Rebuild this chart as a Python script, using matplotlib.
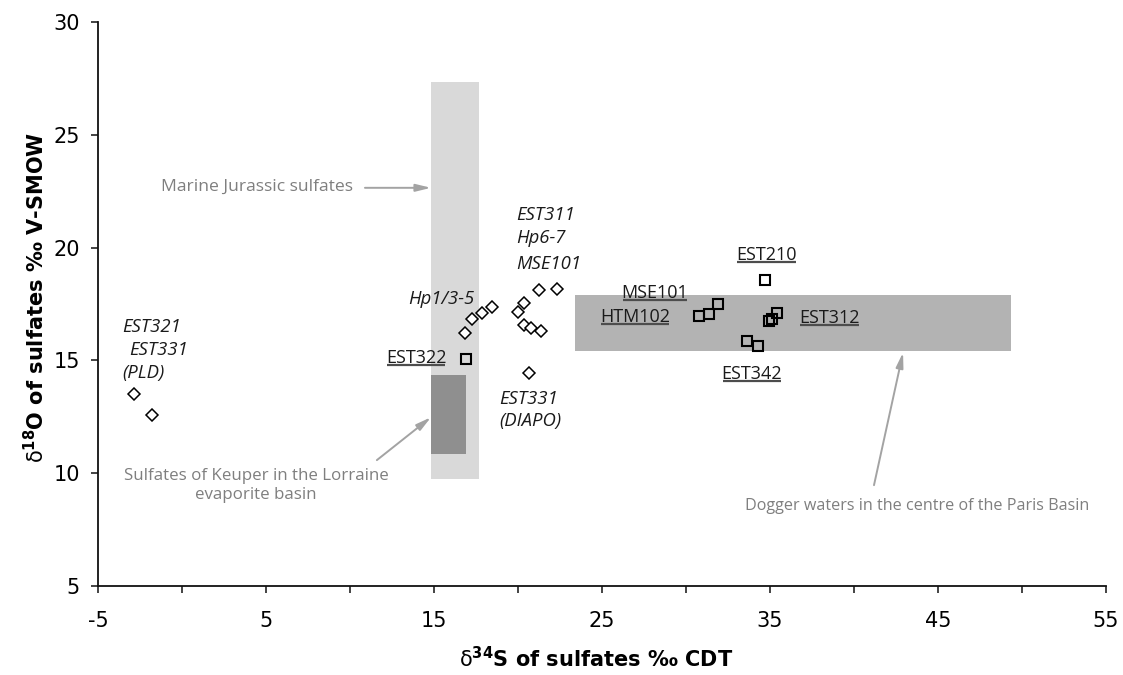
import matplotlib
matplotlib.use("Agg")
import matplotlib.pyplot as plt
from matplotlib.patches import Rectangle

plt.rcParams["axes.unicode_minus"] = False

# Groundwater samples (diamonds) and Dogger waters (squares)
diamond_s34 = [-2.86, -1.79, 16.85, 17.28, 17.86, 18.45, 20.02, 20.36, 21.25, 22.34,
               20.36, 20.77, 21.37, 20.65]
diamond_o18 = [13.5, 12.57, 16.2, 16.85, 17.11, 17.38, 17.15, 17.55, 18.14, 18.17,
               16.55, 16.45, 16.3, 14.46]

square_s34 = [16.88, 30.79, 31.35, 31.92, 34.7, 35.4, 35.1, 34.95, 33.61, 34.3]
square_o18 = [15.04, 16.96, 17.04, 17.51, 18.58, 17.08, 16.85, 16.75, 15.85, 15.63]

# Reference domains: (s34 min, s34 max, o18 min, o18 max)
marine_jurassic = (14.8, 17.7, 9.73, 27.35)
keuper_lorraine = (14.8, 16.93, 10.87, 14.35)
dogger_paris = (23.39, 49.35, 15.4, 17.92)

# Sample labels: (text, x, y, horizontal alignment)
italic_labels = [
    ("EST321", -3.57, 16.5, "left"),
    ("EST331", -3.15, 15.44, "left"),
    ("(PLD)", -3.57, 14.42, "left"),
    ("EST311", 19.88, 21.46, "left"),
    ("Hp6-7", 19.88, 20.44, "left"),
    ("MSE101", 19.88, 19.29, "left"),
    ("Hp1/3-5", 17.38, 17.7, "right"),
    ("EST331", 18.87, 13.27, "left"),
    ("(DIAPO)", 18.87, 12.3, "left"),
]
underlined_labels = [
    ("EST322", 13.93, 15.09),
    ("EST210", 34.8, 19.69),
    ("MSE101", 28.15, 18.0),
    ("HTM102", 26.99, 16.93),
    ("EST342", 33.93, 14.38),
    ("EST312", 38.53, 16.89),
]

# Domain captions: (text, size, text x, text y, arrow tip x, arrow tip y, tail x, tail y)
captions = [
    ("Marine Jurassic sulfates", 12.6, 4.49, 22.7, 14.82, 22.65, 10.89, 22.65),
    ("Sulfates of Keuper in the Lorraine\nevaporite basin", 12.2, 4.4, 9.45,
     14.82, 12.48, 11.6, 10.58),
    ("Dogger waters in the centre of the Paris Basin", 11.6, 43.75, 8.54,
     42.92, 15.35, 41.19, 9.47),
]

x_major = [-5, 5, 15, 25, 35, 45, 55]
x_minor = [0, 10, 20, 30, 40, 50]
y_ticks = [5, 10, 15, 20, 25, 30]

LABEL_FONT = "Open Sans"
GREY_TEXT = "#7f7f7f"
GREY_ARROW = "#a3a3a3"

fig = plt.figure(figsize=(11.23, 6.75), dpi=100)
ax = fig.add_axes([98 / 1123, 1 - 586 / 675, 1008 / 1123, 564 / 675])

ax.set_xlim(-5, 55)
ax.set_ylim(5, 30)


def add_box(box, color):
    x0, x1, y0, y1 = box
    ax.add_patch(Rectangle((x0, y0), x1 - x0, y1 - y0, facecolor=color,
                           edgecolor="none", zorder=1))


add_box(marine_jurassic, "#d9d9d9")
add_box(keuper_lorraine, "#8f8f8f")
add_box(dogger_paris, "#b3b3b3")

ax.plot(diamond_s34, diamond_o18, linestyle="none", marker="D", markersize=6.2,
        markerfacecolor="white", markeredgecolor="black", markeredgewidth=1.1, zorder=4)
ax.plot(square_s34, square_o18, linestyle="none", marker="s", markersize=7.5,
        markerfacecolor="none", markeredgecolor="black", markeredgewidth=1.5, zorder=4)

for txt, x, y, ha in italic_labels:
    ax.text(x, y, txt, ha=ha, va="center", style="italic", fontsize=13.3,
            family=LABEL_FONT, color="#1a1a1a", zorder=5)

under_texts = []
for txt, x, y in underlined_labels:
    t = ax.text(x, y, txt, ha="center", va="center", fontsize=13,
                family=LABEL_FONT, color="#1a1a1a", zorder=5)
    under_texts.append(t)

for txt, size, tx, ty, ax_x, ax_y, sx, sy in captions:
    ax.text(tx, ty, txt, ha="center", va="center", fontsize=size, family=LABEL_FONT,
            color=GREY_TEXT, linespacing=1.3, zorder=5)
    ax.annotate("", xy=(ax_x, ax_y), xytext=(sx, sy),
                arrowprops=dict(arrowstyle="-|>,head_length=0.9,head_width=0.22",
                                color=GREY_ARROW, lw=1.4, shrinkA=0, shrinkB=0),
                zorder=5)

# Axes styling
for side in ("top", "right"):
    ax.spines[side].set_visible(False)
for side in ("left", "bottom"):
    ax.spines[side].set_linewidth(1.3)
    ax.spines[side].set_color("#111111")

ax.set_xticks(x_major)
ax.set_xticks(x_minor, minor=True)
ax.set_yticks(y_ticks)
ax.tick_params(axis="both", which="both", direction="out", length=5, width=1.1,
               color="#111111", labelsize=15)
ax.tick_params(axis="x", which="major", pad=13)
ax.tick_params(axis="y", which="major", pad=8)

fig.text(596 / 1123, 1 - 659 / 675, r"$\mathrm{\delta}^{\mathbf{34}}$S of sulfates ‰ CDT",
         ha="center", va="center", fontsize=15, fontweight="bold")
fig.text(36 / 1123, 1 - 297 / 675, r"$\mathrm{\delta}^{\mathbf{18}}$O of sulfates ‰ V-SMOW",
         ha="center", va="center", fontsize=15, fontweight="bold", rotation=90)

# Underline the Dogger sample labels
fig.canvas.draw()
renderer = fig.canvas.get_renderer()
inv = ax.transData.inverted()
for t in under_texts:
    bb = t.get_window_extent(renderer)
    (x0, y0), (x1, _) = inv.transform([[bb.x0 + 1, bb.y0 + 2], [bb.x1 - 1, bb.y0 + 2]])
    ax.plot([x0, x1], [y0, y0], color="#4d4d4d", lw=1.6, solid_capstyle="butt", zorder=5)

fig.savefig("out.png", dpi=100)
